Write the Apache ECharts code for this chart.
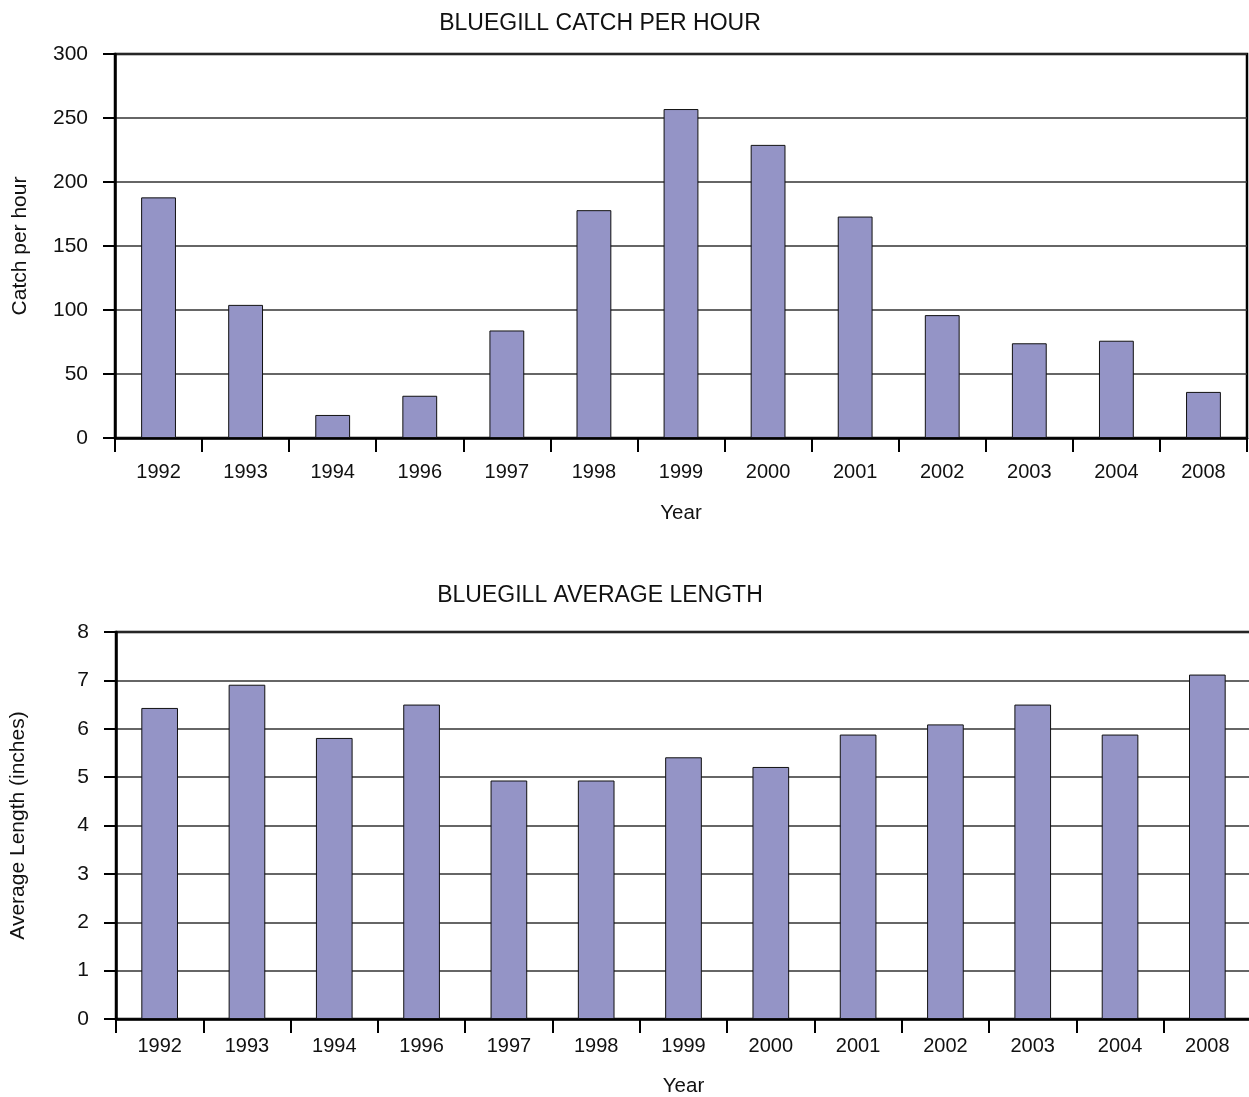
<!DOCTYPE html>
<html>
<head>
<meta charset="utf-8">
<script src="https://cdn.jsdelivr.net/npm/echarts@6/dist/echarts.min.js"></script>
<style>
  html, body { margin: 0; padding: 0; background: #fff; }
  #main { width: 1249px; height: 1097px; }
</style>
</head>
<body>
<div id="main"></div>
<script>
// 年份
const years = ['1992', '1993', '1994', '1996', '1997', '1998', '1999', '2000', '2001', '2002', '2003', '2004', '2008'];
// 每小时捕获量
const catchPerHour = [188, 104, 18, 33, 84, 178, 257, 229, 173, 96, 74, 76, 36];
// 平均长度 (英寸)
const avgLength = [6.43, 6.91, 5.81, 6.5, 4.93, 4.93, 5.41, 5.21, 5.88, 6.09, 6.5, 5.88, 7.12];

const FONT = 'Liberation Sans, Arial, sans-serif';
const barColor = '#9494c6';

function xAxisOf(gridIndex, labelMargin, nameGap) {
  return {
    type: 'category',
    gridIndex: gridIndex,
    data: years,
    name: 'Year',
    nameLocation: 'middle',
    nameGap: nameGap,
    nameTextStyle: { color: '#111', fontSize: 20.5, fontFamily: FONT, verticalAlign: 'top' },
    axisLine: { lineStyle: { color: '#000', width: 2.5 } },
    axisTick: { show: true, length: 14, lineStyle: { color: '#000', width: 2 } },
    axisLabel: { color: '#111', fontSize: 20, fontFamily: FONT, margin: labelMargin },
    splitLine: { show: false }
  };
}

function yAxisOf(gridIndex, name, max, interval, gap) {
  return {
    type: 'value',
    gridIndex: gridIndex,
    min: 0,
    max: max,
    interval: interval,
    name: name,
    nameLocation: 'middle',
    nameGap: gap,
    nameTextStyle: { color: '#111', fontSize: 21, fontFamily: FONT },
    axisLine: { show: true, lineStyle: { color: '#000', width: 2.5 } },
    axisTick: { show: true, length: 12, lineStyle: { color: '#000', width: 2 } },
    axisLabel: { color: '#111', fontSize: 21, fontFamily: FONT, margin: 27 },
    splitLine: { show: true, lineStyle: { color: '#333', width: 1.5 } }
  };
}

const chart = echarts.init(document.getElementById('main'));

chart.setOption({
  backgroundColor: '#fff',
  animation: false,
  title: [
    {
      text: 'BLUEGILL CATCH PER HOUR',
      left: 595, top: 7, textAlign: 'center',
      textStyle: { color: '#111', fontSize: 23, fontWeight: 'normal', fontFamily: FONT }
    },
    {
      text: 'BLUEGILL AVERAGE LENGTH',
      left: 595, top: 579, textAlign: 'center',
      textStyle: { color: '#111', fontSize: 23, fontWeight: 'normal', fontFamily: FONT }
    }
  ],
  grid: [
    { left: 115, right: 2, top: 54, height: 384, show: true, borderColor: '#000', borderWidth: 2.5, backgroundColor: 'transparent', outerBoundsMode: 'none' },
    { left: 116, right: -2, top: 632, height: 387, show: true, borderColor: '#000', borderWidth: 2.5, backgroundColor: 'transparent', outerBoundsMode: 'none' }
  ],
  xAxis: [xAxisOf(0, 24, 65), xAxisOf(1, 17, 57)],
  yAxis: [
    yAxisOf(0, 'Catch per hour', 300, 50, 84),
    yAxisOf(1, 'Average Length (inches)', 8, 1, 87)
  ],
  series: [
    {
      type: 'bar',
      xAxisIndex: 0, yAxisIndex: 0,
      data: catchPerHour,
      barWidth: '40%',
      itemStyle: { color: barColor, borderColor: '#111', borderWidth: 1 }
    },
    {
      type: 'bar',
      xAxisIndex: 1, yAxisIndex: 1,
      data: avgLength,
      barWidth: '42%',
      itemStyle: { color: barColor, borderColor: '#111', borderWidth: 1 }
    }
  ]
});
</script>
</body>
</html>
